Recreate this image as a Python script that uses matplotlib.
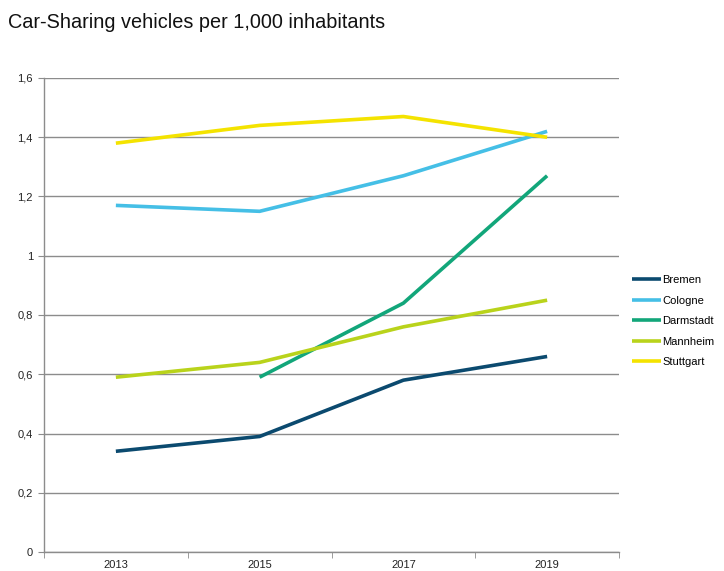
import numpy as np
import matplotlib
matplotlib.use("Agg")
import matplotlib.pyplot as plt
from matplotlib.ticker import FuncFormatter, FixedLocator

plt.rcParams['font.family'] = ['Liberation Sans', 'DejaVu Sans']

# Data
years = ["2013", "2015", "2017", "2019"]
bremen = [0.34, 0.39, 0.58, 0.66]
cologne = [1.17, 1.15, 1.27, 1.42]
darmstadt = [np.nan, 0.59, 0.84, 1.27]
mannheim = [0.59, 0.64, 0.76, 0.85]
stuttgart = [1.38, 1.44, 1.47, 1.40]

series = [
	("Bremen", bremen, "#0B4A6F"),
	("Cologne", cologne, "#45BFE6"),
	("Darmstadt", darmstadt, "#12A67A"),
	("Mannheim", mannheim, "#B9D31B"),
	("Stuttgart", stuttgart, "#F4E300"),
]

# Figure
fig = plt.figure(figsize=(7.24, 5.71), dpi=100)
ax = fig.add_axes([44/724, 19/571, 575/724, 474/571])

x = np.arange(len(years))
for name, vals, col in series:
	ax.plot(x, vals, color=col, linewidth=2.6, label=name, solid_capstyle='butt')

ax.set_xlim(-0.5, len(years) - 0.5)
ax.set_ylim(0, 1.6)
ax.set_yticks(np.arange(0, 1.61, 0.2))
ax.yaxis.set_major_formatter(FuncFormatter(
	lambda v, p: "0" if abs(v) < 1e-9 else ("1" if abs(v - 1) < 1e-9 else ("%.1f" % v).replace(".", ","))))
ax.set_xticks(x)
ax.set_xticklabels(years)
ax.xaxis.set_minor_locator(FixedLocator(np.arange(-0.5, len(years), 1.0)))
ax.tick_params(axis='x', which='major', length=0, pad=6, labelsize=8, colors='#222222')
ax.tick_params(axis='x', which='minor', length=4, color='#8c8c8c')
ax.tick_params(axis='y', length=4, color='#8c8c8c', labelsize=8, labelcolor='#222222', pad=4)

ax.grid(axis='y', color='#8c8c8c', linewidth=1)
ax.set_axisbelow(True)
for s in ['top', 'right']:
	ax.spines[s].set_visible(False)
for s in ['left', 'bottom']:
	ax.spines[s].set_color('#8c8c8c')
	ax.spines[s].set_linewidth(1)

fig.text(8/724, 1 - 22/571, "Car-Sharing vehicles per 1,000 inhabitants", fontsize=14.3, va='center', ha='left', color='#111111')

ax.legend(loc='center left', bbox_to_anchor=(1.015, 0.487), frameon=False, fontsize=8,
	handlelength=2.6, handletextpad=0.1, labelspacing=0.95, borderaxespad=0)

plt.savefig('out.png', dpi=100)
